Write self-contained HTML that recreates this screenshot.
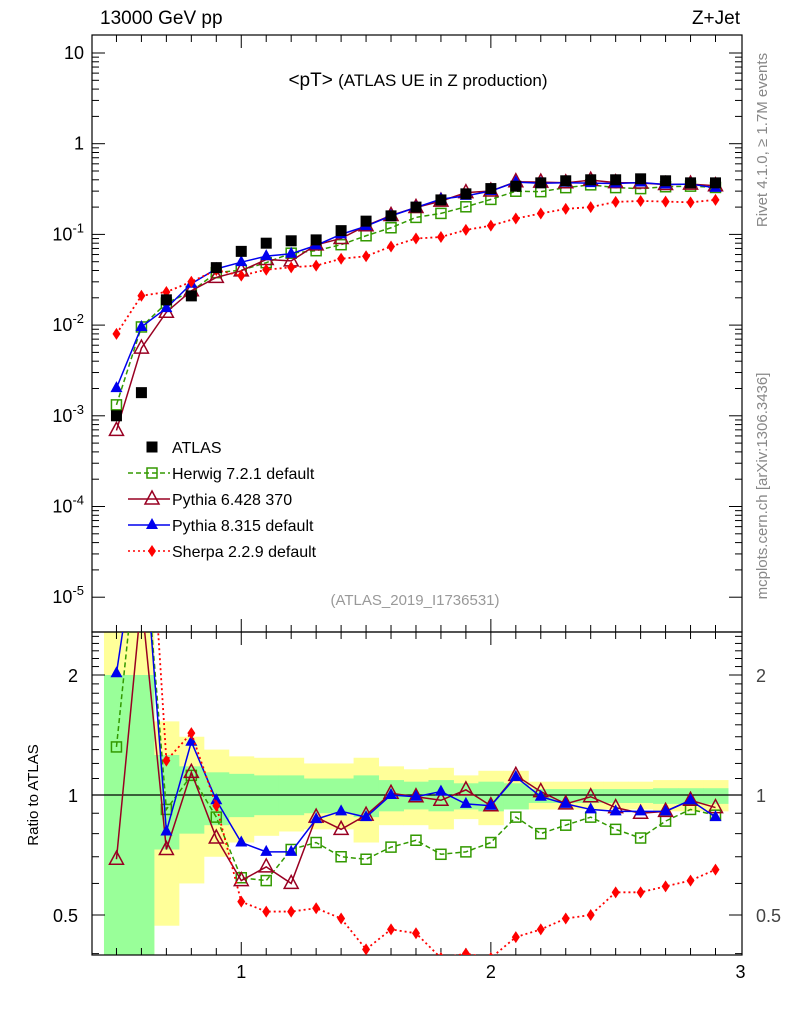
<!DOCTYPE html>
<html><head><meta charset="utf-8"><style>
body{margin:0;background:#fff;}
svg{display:block;font-family:"Liberation Sans",sans-serif;}
</style></head><body>
<svg id="c" width="786" height="1024" viewBox="0 0 786 1024"></svg>
<script>
const xs=[0.5,0.6,0.7,0.8,0.9,1.0,1.1,1.2,1.3,1.4,1.5,1.6,1.7,1.8,1.9,2.0,2.1,2.2,2.3,2.4,2.5,2.6,2.7,2.8,2.9];
const atlas=[0.001,0.0018,0.019,0.021,0.043,0.065,0.08,0.085,0.087,0.11,0.14,0.16,0.2,0.24,0.28,0.32,0.34,0.37,0.39,0.4,0.4,0.41,0.39,0.37,0.37];
const herwigR=[1.32,5.3,0.92,1.12,0.88,0.62,0.61,0.73,0.76,0.70,0.69,0.74,0.77,0.71,0.72,0.76,0.88,0.80,0.84,0.88,0.82,0.78,0.86,0.92,0.89];
const py6R=[0.69,3.1,0.73,1.14,0.78,0.61,0.66,0.60,0.88,0.82,0.89,1.01,0.99,0.97,1.03,0.94,1.12,1.02,0.95,0.99,0.93,0.90,0.91,0.97,0.93];
const py8R=[2.02,5.3,0.81,1.36,0.97,0.76,0.72,0.72,0.87,0.91,0.88,1.0,0.99,1.02,0.95,0.94,1.11,0.99,0.95,0.92,0.91,0.91,0.91,0.97,0.88];
const sherpaR=[8,11.7,1.22,1.43,0.94,0.54,0.51,0.51,0.52,0.49,0.41,0.46,0.45,0.39,0.40,0.39,0.44,0.46,0.49,0.50,0.57,0.57,0.59,0.61,0.65];
const yelUp=[3,3,1.53,1.40,1.30,1.25,1.24,1.24,1.20,1.20,1.24,1.18,1.16,1.17,1.12,1.15,1.15,1.08,1.08,1.08,1.08,1.08,1.09,1.09,1.09];
const yelDn=[0.3,0.3,0.47,0.60,0.70,0.76,0.79,0.81,0.82,0.82,0.76,0.84,0.84,0.82,0.87,0.84,0.92,0.92,0.92,0.92,0.92,0.92,0.91,0.91,0.91];
const grnUp=[2.0,2.0,1.26,1.18,1.14,1.13,1.12,1.12,1.10,1.10,1.12,1.09,1.08,1.09,1.07,1.08,1.07,1.035,1.035,1.035,1.035,1.035,1.04,1.04,1.04];
const grnDn=[0.3,0.3,0.73,0.80,0.84,0.88,0.89,0.89,0.90,0.90,0.88,0.91,0.92,0.91,0.92,0.91,0.92,0.955,0.955,0.955,0.955,0.955,0.95,0.95,0.95];
const yTicksMain=[10,1,0.1,0.01,0.001,0.0001,0.00001];
const yLabelsMain=["10","1","10^-1","10^-2","10^-3","10^-4","10^-5"];
const xTicks=[1,2,3];
const rTicks=[0.5,1,2];

const L=92,R=742,T=35,MB=632,RB=955;
const X=v=>91.5+(v-0.4)*249.6;
const Y=v=>53-(Math.log10(v)-1)*90.7;
const YR=v=>795-Math.log2(v)*120;
const NS="http://www.w3.org/2000/svg";
const svg=document.getElementById('c');
function el(t,a,p){const e=document.createElementNS(NS,t);for(const k in a)e.setAttribute(k,a[k]);(p||svg).appendChild(e);return e;}
function txt(s,a,p){const e=el('text',a,p);e.textContent=s;return e;}

const defs=el('defs',{});
const cm=el('clipPath',{id:'cm'},defs);el('rect',{x:L,y:T,width:R-L,height:MB-T},cm);
const cr=el('clipPath',{id:'cr'},defs);el('rect',{x:L,y:MB,width:R-L,height:RB-MB},cr);

const bands=el('g',{'clip-path':'url(#cr)'});


xs.forEach((x,i)=>{
  const r=el('rect',{x:X(x-0.05),width:X(x+0.05)-X(x-0.05)+0.5,y:YR(yelUp[i]),height:YR(yelDn[i])-YR(yelUp[i]),fill:'#ffff99'},bands);
  
  
});
xs.forEach((x,i)=>{
  const r=el('rect',{x:X(x-0.05),width:X(x+0.05)-X(x-0.05)+0.5,y:YR(grnUp[i]),height:YR(grnDn[i])-YR(grnUp[i]),fill:'#99ff99'},bands);
  
  
});
el('line',{x1:L,x2:R,y1:YR(1),y2:YR(1),stroke:'#000','stroke-width':1.2});

el('rect',{x:L,y:T,width:R-L,height:MB-T,fill:'none',stroke:'#000','stroke-width':1.2});
el('rect',{x:L,y:MB,width:R-L,height:RB-MB,fill:'none',stroke:'#000','stroke-width':1.2});

for(let d=-5;d<=1;d++){
  for(let m=1;m<10;m++){
    const v=m*Math.pow(10,d);const y=Y(v);if(y<T||y>MB)continue;
    const len=m==1?13:7;
    el('line',{x1:L,x2:L+len,y1:y,y2:y,stroke:'#000'});
    el('line',{x1:R,x2:R-len,y1:y,y2:y,stroke:'#000'});
  }
}
yTicksMain.forEach((v,i)=>{
  const s=yLabelsMain[i];const y=Y(v)+6;
  if(s.indexOf('^')<0){const t=txt(s,{x:L-8,y:y,'text-anchor':'end','font-size':18});}
  else{const [b,e]=s.split('^');const t=txt('',{x:L-8,y:y,'text-anchor':'end','font-size':18});
    
    const a=el('tspan',{},t);a.textContent=b;const c=el('tspan',{dy:-8,'font-size':13},t);c.textContent=e;}
});
for(let v=0.4;v<=2.6;v+=0.1){const y=YR(v);if(y<MB||y>RB)continue;
  const big=Math.abs(v-0.5)<1e-6||Math.abs(v-1)<1e-6||Math.abs(v-2)<1e-6;const len=big?13:7;
  el('line',{x1:L,x2:L+len,y1:y,y2:y,stroke:'#000'});el('line',{x1:R,x2:R-len,y1:y,y2:y,stroke:'#000'});}
rTicks.forEach(v=>{
  const a=txt(String(v),{x:L-14,y:YR(v)+7,'text-anchor':'end','font-size':18});
  
  const b=txt(String(v),{x:R+14,y:YR(v)+7,'text-anchor':'start','font-size':18,fill:'#444'});
  
});
for(let k=5;k<=29;k++){const v=k/10;const x=X(v);const big=k%10==0;const len=big?13:7;
  el('line',{x1:x,x2:x,y1:T,y2:T+len,stroke:'#000'});el('line',{x1:x,x2:x,y1:MB,y2:MB-len,stroke:'#000'});
  el('line',{x1:x,x2:x,y1:MB,y2:MB+len,stroke:'#000'});el('line',{x1:x,x2:x,y1:RB,y2:RB-len,stroke:'#000'});}
xTicks.forEach(v=>{const t=txt(String(v),{x:X(v),y:978,'text-anchor':'middle','font-size':18});
  });

function marker(kind,x,y,col,p){
  let e;
  if(kind=='sq')e=el('rect',{x:x-5,y:y-5,width:10,height:10,fill:'none',stroke:col,'stroke-width':1.5},p);
  else if(kind=='fsq')e=el('rect',{x:x-5.5,y:y-5.5,width:11,height:11,fill:'#000'},p);
  else if(kind=='otri')e=el('polygon',{points:`${x},${y-8} ${x-7},${y+5} ${x+7},${y+5}`,fill:'none',stroke:col,'stroke-width':1.5},p);
  else if(kind=='tri')e=el('polygon',{points:`${x},${y-7} ${x-6},${y+4} ${x+6},${y+4}`,fill:col},p);
  else e=el('polygon',{points:`${x},${y-6} ${x-4},${y} ${x},${y+6} ${x+4},${y}`,fill:col},p);
  return e;
}
const series=[
  {n:'herwig',r:herwigR,c:'#339900',k:'sq',d:'5,3',w:1.5},
  {n:'pythia6',r:py6R,c:'#990022',k:'otri',d:'',w:1.5},
  {n:'pythia8',r:py8R,c:'#0000ee',k:'tri',d:'',w:1.5},
  {n:'sherpa',r:sherpaR,c:'#ff0000',k:'dia',d:'2,3',w:1.8}
];
const gm=el('g',{'clip-path':'url(#cm)'});
const gr=el('g',{'clip-path':'url(#cr)'});
series.forEach(s=>{
  const pm=xs.map((x,i)=>X(x)+','+Y(atlas[i]*s.r[i])).join(' ');
  const l1=el('polyline',{points:pm,fill:'none',stroke:s.c,'stroke-width':s.w,'stroke-dasharray':s.d},gm);
  
  
  const pr=xs.map((x,i)=>X(x)+','+YR(s.r[i])).join(' ');
  const l2=el('polyline',{points:pr,fill:'none',stroke:s.c,'stroke-width':s.w,'stroke-dasharray':s.d},gr);
  
  
  xs.forEach((x,i)=>{
    const m=marker(s.k,X(x),Y(atlas[i]*s.r[i]),s.c,gm);
    
    
    const m2=marker(s.k,X(x),YR(s.r[i]),s.c,gr);
    
    
  });
});
xs.forEach((x,i)=>{const m=marker('fsq',X(x),Y(atlas[i]),'#000',gm);
  
  });

const lg=el('g',{});
const leg=[['ATLAS','fsq','#000',''],['Herwig 7.2.1 default','sq','#339900','5,3'],['Pythia 6.428 370','otri','#990022',''],['Pythia 8.315 default','tri','#0000ee',''],['Sherpa 2.2.9 default','dia','#ff0000','2,3']];
leg.forEach((e,i)=>{const y=447+i*26;
  if(i>0)el('line',{x1:128,x2:170,y1:y,y2:y,stroke:e[2],'stroke-width':1.5,'stroke-dasharray':e[3]},lg);
  marker(e[1],152,y,e[2],lg);
  const t=txt(e[0],{x:172,y:y+6,'font-size':16},lg);});

const T1=txt('13000 GeV pp',{x:100,y:24,'font-size':19});
const T2=txt('Z+Jet',{x:740,y:24,'font-size':19,'text-anchor':'end'});
const T3=txt('',{x:418,y:86,'font-size':17,'text-anchor':'middle'});
el('tspan',{'font-size':19},T3).textContent='<pT> ';el('tspan',{},T3).textContent='(ATLAS UE in Z production)';
const T4=txt('(ATLAS_2019_I1736531)',{x:415,y:605,'font-size':15,'text-anchor':'middle',fill:'#999'});
const T5=txt('Rivet 4.1.0, ≥ 1.7M events',{x:0,y:0,'font-size':15,'text-anchor':'middle',fill:'#888',transform:'translate(767,140) rotate(-90)'});
const T6=txt('mcplots.cern.ch [arXiv:1306.3436]',{x:0,y:0,'font-size':15,'text-anchor':'middle',fill:'#888',transform:'translate(767,486) rotate(-90)'});
const T7=txt('Ratio to ATLAS',{x:0,y:0,'font-size':15,'text-anchor':'middle',transform:'translate(38,795) rotate(-90)'});
</script>
</body></html>
